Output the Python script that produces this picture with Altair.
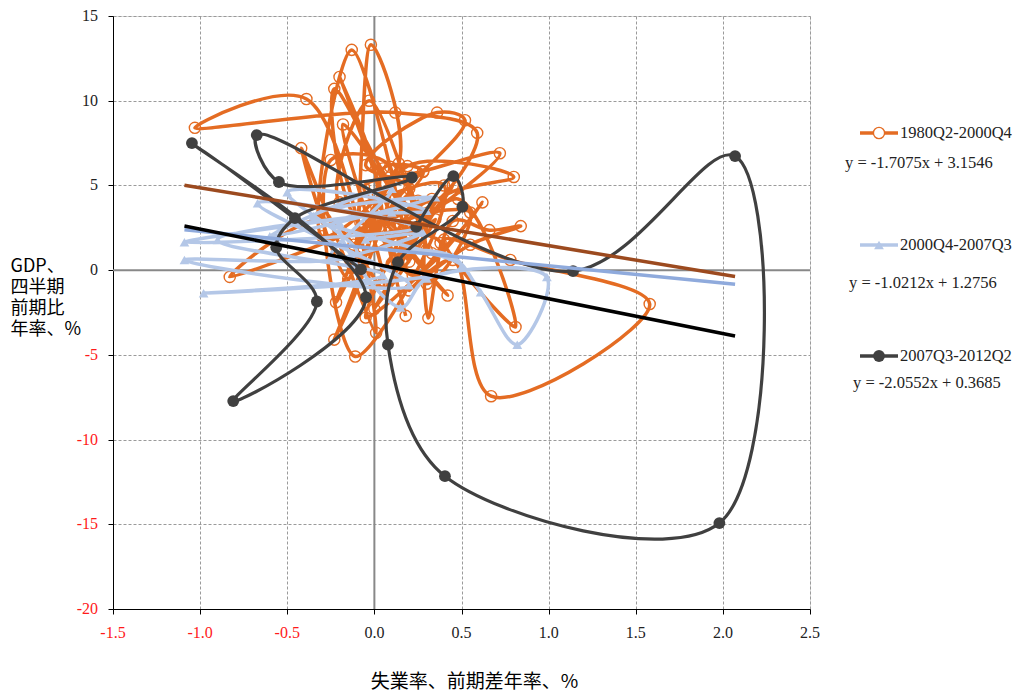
import altair as alt
import pandas as pd

# ---------------- data ----------------
series_names = ["1980Q2-2000Q4", "2000Q4-2007Q3", "2007Q3-2012Q2"]

orange_x = [0.18, 0.05, 0.28, -0.12, 0.20, -0.05, 0.36, 0.52, 0.10, -0.22,
            0.15, 0.30, -0.03, -0.20, 0.40, -0.11, -0.25, 0.09, -0.23, 0.02,
            -0.20, 0.20, -0.13, -0.30, 0.14, -0.02, -0.15, -0.42, 0.01, -0.39,
            -1.03, 0.12, 0.59, 0.25, -0.23, -0.08, 0.33, -0.83, -0.28, 0.05,
            -0.18, 0.22, -0.06, 0.28, 0.72, 0.30, -0.10, 0.19, 0.80, 0.35,
            0.31, 0.45, 0.66, 0.84, 0.55, 0.20, 0.45, 0.67, 1.58, 0.78,
            0.40, 0.81, 0.48, 0.10, 0.35, 0.00, 0.25, 0.45, 0.12, -0.05,
            0.30, 0.55, 0.15, 0.42, 0.05, 0.33, 0.62, 0.22, 0.08, 0.38,
            -0.05, 0.25, 0.10]
orange_y = [-2.7, 6.0, 5.8, 1.5, 4.8, 6.2, 9.3, 8.85, 3.8, -1.9,
            5.6, 1.2, 10.0, 4.0, 5.0, -5.1, 6.5, 6.1, -4.1, 4.5,
            11.4, 0.5, 13.0, 2.0, 6.3, 13.3, -0.5, 7.2, -3.7, 10.1,
            8.4, 9.3, 8.1, 3.5, 10.7, 2.8, 4.2, -0.4, 3.0, -1.0,
            8.6, 2.3, 4.9, 5.84, 6.9, 3.2, 0.8, 6.14, 5.5, 4.0,
            -2.83, 2.9, 2.36, 2.6, 1.5, -1.2, 0.6, -7.44, -2.0, 0.6,
            1.8, -3.36, 4.2, 0.4, 3.0, -2.3, 2.0, 5.0, 1.2, 3.6,
            -0.8, 3.4, 2.6, -1.5, 3.1, 1.0, 4.0, -0.3, 2.2, 1.6,
            -2.8, 4.1, 1.8]

blue_x = [0.20, 0.45, 0.61, 0.82, 0.99, 0.30, 0.15, -0.20, 0.30, -0.50,
          -0.10, -1.09, 0.20, -0.67, 0.25, -1.09, 0.10, -0.90, 0.05, -0.98,
          0.50, -0.35, 0.35, -0.60, 0.10, -0.25, 0.28, -0.05]
blue_y = [1.2, 0.8, -1.3, -4.4, -0.4, -0.5, -2.2, 2.8, 3.5, 4.6,
          1.0, 0.6, -0.9, 3.95, 2.5, 1.65, 3.4, 1.77, -0.3, -1.36,
          0.2, 3.2, 4.3, 2.0, 4.8, 0.8, 2.2, 1.8]

dark_x = [0.24, 0.453, 0.505, 0.135, 0.078, 0.405, 1.98, 2.07, 1.14, -0.675,
          -0.548, 0.215, -0.456, -0.563, -0.33, -0.81, -0.048, -1.047, -0.077]
dark_y = [2.55, 5.55, 3.74, 0.47, -4.4, -12.16, -14.93, 6.73, -0.06, 7.97,
          5.2, 5.47, 3.07, 1.35, -1.85, -7.73, -1.6, 7.5, 0.05]

slopes = [-1.7075, -1.0212, -2.0552]
intercepts = [3.1546, 1.2756, 0.3685]
trend_x_range = [-1.09, 2.07]
equations = ["y = -1.7075x + 3.1546", "y = -1.0212x + 1.2756", "y = -2.0552x + 0.3685"]

x_ticks = [-1.5, -1.0, -0.5, 0.0, 0.5, 1.0, 1.5, 2.0, 2.5]
x_tick_labels = ["-1.5", "-1.0", "-0.5", "0.0", "0.5", "1.0", "1.5", "2.0", "2.5"]
y_ticks = [-20, -15, -10, -5, 0, 5, 10, 15]
y_tick_labels = ["-20", "-15", "-10", "-5", "0", "5", "10", "15"]

# ---------------- styling ----------------
C_OR = "#E46C23"
C_BL = "#B4C7E7"
C_DK = "#404040"
C_TR = ["#9C4A1F", "#8FAADC", "#000000"]
SERIF = "Liberation Serif"
CJK = "Noto Sans CJK JP"
W, H = 697, 593

rows = []
for name, xs, ys in zip(series_names, [orange_x, blue_x, dark_x], [orange_y, blue_y, dark_y]):
    for i, (a, b) in enumerate(zip(xs, ys)):
        rows.append({"s": name, "i": i, "x": a, "y": b})
df = pd.DataFrame(rows)

trows = []
for name, m, c in zip(series_names, slopes, intercepts):
    for xv in trend_x_range:
        trows.append({"s": name, "x": xv, "y": m * xv + c})
tdf = pd.DataFrame(trows)

xs = alt.Scale(domain=[-1.5, 2.5], nice=False, zero=False)
ys = alt.Scale(domain=[-20, 15], nice=False, zero=False)

x_enc = alt.X("x:Q", scale=xs, axis=alt.Axis(
    values=x_ticks, grid=True, labels=False, tickSize=5,
    domainColor="#000000", tickColor="#000000",
    gridColor="#9a9a9a", gridDash=[3, 2], gridWidth=1,
    title="失業率、前期差年率、%", titleFont=CJK, titleFontSize=19,
    titleFontWeight="normal", titleColor="#000000",
    titleAnchor="start", titleAlign="center", titleX=361, titleY=63, titleBaseline="top"))
y_enc = alt.Y("y:Q", scale=ys, axis=alt.Axis(
    values=y_ticks, grid=True, labels=False, tickSize=5,
    domainColor="#000000", tickColor="#000000",
    gridColor="#9a9a9a", gridDash=[3, 2], gridWidth=1,
    title=["GDP、", "四半期", "前期比", "年率、%"], titleFont=CJK, titleFontSize=18,
    titleFontWeight="normal", titleColor="#000000", titleLineHeight=21,
    titleAngle=0, titleAlign="left", titleBaseline="top", titleX=-103, titleY=241))

base = alt.Chart(df)

zero_df = pd.DataFrame({"x": [0.0], "y": [0.0]})
zero_v = alt.Chart(zero_df).mark_rule(color="#888888", strokeWidth=2).encode(x=x_enc)
zero_h = alt.Chart(zero_df).mark_rule(color="#888888", strokeWidth=2).encode(y=y_enc)

def series_layers(name, color, shape, filled, size, sw):
    d = base.transform_filter(alt.datum.s == name)
    line = d.mark_line(interpolate="catmull-rom", color=color, strokeWidth=sw).encode(
        x=x_enc, y=y_enc, order="i:Q")
    if filled:
        pts = d.mark_point(shape=shape, filled=True, color=color, size=size, opacity=1).encode(
            x=x_enc, y=y_enc)
    else:
        pts = d.mark_point(shape=shape, filled=False, color=color, size=size,
                           strokeWidth=1.4, opacity=1).encode(x=x_enc, y=y_enc)
    return [line, pts]

layers = [zero_v, zero_h]
layers += series_layers(series_names[0], C_OR, "circle", False, 125, 3.5)
layers += series_layers(series_names[1], C_BL, "triangle-up", True, 95, 3.5)
layers += series_layers(series_names[2], C_DK, "circle", True, 140, 3.2)

for name, col in zip(series_names, C_TR):
    layers.append(alt.Chart(tdf).transform_filter(alt.datum.s == name)
                  .mark_line(color=col, strokeWidth=3.5).encode(x=x_enc, y=y_enc))

# ---------------- tick labels (serif, negatives in red) ----------------
xl = pd.DataFrame({"x": x_ticks, "lab": x_tick_labels})
yl = pd.DataFrame({"y": y_ticks, "lab": y_tick_labels})
color_cond = alt.condition("datum.lab[0] == '-'", alt.value("#ff1a1a"), alt.value("#222222"))
layers.append(alt.Chart(xl).mark_text(font=SERIF, fontSize=16, baseline="middle", align="center").encode(
    x=x_enc, y=alt.value(H + 24), text="lab:N", color=color_cond))
layers.append(alt.Chart(yl).mark_text(font=SERIF, fontSize=16, baseline="middle", align="right").encode(
    y=y_enc, x=alt.value(-15), text="lab:N", color=color_cond))

# ---------------- legend (drawn beside the plot) ----------------
leg_df = pd.DataFrame({"name": series_names, "eq": equations,
                       "ly": [117, 229, 340], "ey": [147, 267, 367],
                       "ex": [732, 736, 740]})
lb = alt.Chart(leg_df)
cols = [C_OR, C_BL, C_DK]
for k, name in enumerate(series_names):
    dk = lb.transform_filter(alt.datum.name == name)
    layers.append(dk.mark_rule(color=cols[k], strokeWidth=3.5).encode(
        x=alt.value(747), x2=alt.value(785), y=alt.Y("ly:Q", scale=None)))
    if k == 0:
        layers.append(dk.mark_point(shape="circle", filled=True, fill="white", stroke=C_OR,
                                    strokeWidth=1.4, size=125, opacity=1).encode(
            x=alt.value(766), y=alt.Y("ly:Q", scale=None)))
    elif k == 1:
        layers.append(dk.mark_point(shape="triangle-up", filled=True, color=C_BL, size=95,
                                    opacity=1).encode(x=alt.value(766), y=alt.Y("ly:Q", scale=None)))
    else:
        layers.append(dk.mark_point(shape="circle", filled=True, color=C_DK, size=140,
                                    opacity=1).encode(x=alt.value(766), y=alt.Y("ly:Q", scale=None)))

layers.append(lb.mark_text(align="left", baseline="middle", font=SERIF, fontSize=16.5,
                           color="#222222").encode(
    x=alt.value(787), y=alt.Y("ly:Q", scale=None), text="name:N"))
layers.append(lb.mark_text(align="left", baseline="middle", font=SERIF, fontSize=16.5,
                           color="#222222").encode(
    x=alt.X("ex:Q", scale=None), y=alt.Y("ey:Q", scale=None), text="eq:N"))

chart = alt.layer(*layers).properties(
    width=W, height=H,
    padding={"left": 105, "top": 8, "right": 210, "bottom": 83},
    autosize=alt.AutoSizeParams(type="none"),
).configure_view(stroke=None).configure(background="white")

chart.save("out.html", embed_options={"renderer": "svg", "actions": False})
